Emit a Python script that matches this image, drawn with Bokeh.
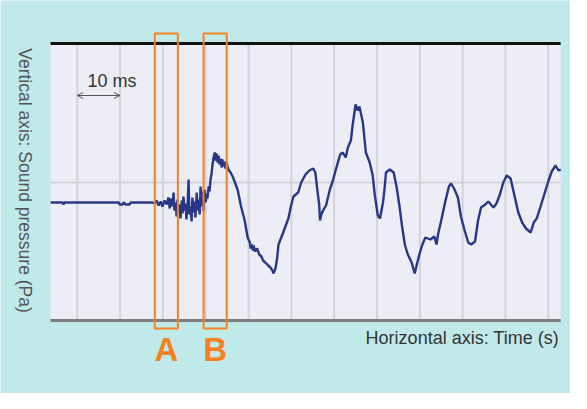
from bokeh.plotting import figure
from bokeh.models import Range1d, Label, Arrow, OpenHead
from bokeh.embed import file_html
from bokeh.resources import INLINE

# ---- data (time in ms, sound pressure in arbitrary Pa units) ----
time_ms = [
    -6.2, -3.4, -3.2, -3.0, 9.7, 9.9, 10.6, 10.8, 11.3, 12.2, 12.5, 17.6,
    18.1, 18.5, 19.0, 19.5, 19.9, 20.4, 20.9, 21.3, 21.6, 21.8, 22.0, 22.3,
    22.5, 22.7, 23.0, 23.2, 23.4, 23.7, 23.9, 24.1, 24.4, 24.6, 24.8, 25.1,
    25.3, 25.5, 25.8, 26.0, 26.2, 26.5, 26.7, 26.9, 27.2, 27.4, 27.6, 27.9,
    28.1, 28.3, 28.6, 28.8, 29.0, 29.3, 29.5, 29.7, 30.0, 30.2, 30.4, 30.7,
    30.9, 31.1, 31.4, 31.6, 31.8, 32.1, 32.3, 32.5, 32.8, 33.0, 33.2, 33.5,
    33.7, 33.9, 34.2, 34.4, 34.6, 34.9, 35.1, 35.3, 35.8, 36.3, 37.0, 37.5,
    38.2, 39.1, 39.8, 40.3, 40.5, 40.8, 41.0, 41.2, 41.5, 42.0, 42.5, 43.0,
    43.4, 43.9, 44.6, 45.1, 45.6, 45.8, 46.3, 46.7, 47.0, 48.1, 49.3, 50.0,
    50.5, 51.6, 52.3, 53.3, 54.2, 55.1, 55.6, 56.0, 56.5, 56.7, 57.0, 57.4,
    58.1, 59.0, 59.7, 60.4, 61.4, 62.0, 62.7, 63.2, 63.9, 64.3, 64.8, 65.0,
    65.5, 65.9, 66.2, 66.7, 67.4, 68.3, 69.0, 69.5, 70.2, 70.7, 71.4, 71.8,
    72.1, 73.0, 73.9, 74.6, 75.3, 75.8, 76.5, 77.2, 78.1, 78.8, 79.3, 79.9,
    80.6, 81.3, 82.5, 83.4, 83.9, 84.3, 85.0, 85.9, 86.8, 87.3, 88.0, 88.9,
    89.6, 90.4, 91.3, 92.0, 92.9, 93.6, 94.3, 95.3, 96.0, 97.2, 97.9, 98.7,
    99.5, 100.3, 101.2, 102.1, 103.0, 103.9, 104.8, 105.9, 106.6, 107.3, 108.2, 109.2,
    110.0, 110.8, 111.7, 112.4, 112.9,
]
pressure = [
    -2.0, -2.0, -2.2, -2.0, -2.0, -2.2, -2.2, -2.0, -2.2, -2.2, -2.0, -2.0,
    -2.1, -1.8, -2.3, -1.9, -2.4, -1.8, -2.2, -1.5, -2.6, -1.6, -2.4, -1.9,
    -1.0, -2.8, -2.0, -3.4, -1.7, -3.0, -2.2, -3.6, -1.8, -3.1, -1.4, -2.8,
    -2.1, -3.7, -2.0, 0.3, -3.2, -2.4, -3.9, -1.5, -3.0, -1.9, -3.5, -1.0,
    -2.8, -1.7, -3.2, -0.4, -2.4, -0.9, -2.9, -0.7, -2.0, -1.1, -1.6, -0.4,
    -0.9, 0.2, 1.0, 1.8, 2.4, 3.0, 2.2, 2.9, 2.0, 2.7, 1.8, 2.4,
    1.5, 2.3, 1.6, 2.1, 1.4, 2.0, 1.6, 1.3, 1.0, 0.6, -0.2, -0.8,
    -2.3, -3.8, -5.5, -6.0, -6.6, -6.2, -6.8, -6.3, -6.9, -6.6, -7.2, -7.4,
    -7.8, -8.0, -8.3, -8.5, -8.8, -9.1, -8.6, -7.5, -6.2, -5.0, -3.6, -2.2,
    -1.4, -1.0, 0.0, 0.8, 1.2, 1.4, 1.0, -0.5, -2.2, -3.8, -3.2, -2.8,
    -2.3, -0.7, 0.2, 1.3, 2.8, 3.0, 2.5, 3.5, 4.2, 5.7, 7.2, 7.8,
    7.2, 7.6, 7.0, 6.0, 3.0, 2.0, 0.7, -1.3, -3.3, -3.6, -2.0, -0.5,
    1.0, 1.3, 1.0, -0.5, -2.5, -4.2, -6.2, -7.2, -8.0, -9.1, -8.2, -7.2,
    -6.2, -5.5, -5.7, -5.4, -6.2, -5.1, -3.8, -2.0, -0.4, -0.1, -0.6, -1.5,
    -3.4, -4.7, -6.0, -6.2, -5.9, -3.8, -2.5, -2.2, -1.9, -2.5, -2.1, -1.2,
    0.0, 0.7, 0.4, -1.3, -3.0, -4.0, -4.6, -5.0, -4.0, -3.6, -2.4, -1.0,
    0.1, 1.1, 1.7, 1.2, 1.3,
]
grid_ticks_ms = [0, 10, 20, 30, 40, 50, 60, 70, 80, 90, 100, 110]
window_labels = ["A", "B"]
window_start_ms = [18.1, 29.5]
window_end_ms = [23.5, 34.9]
scale_bar_ms = [0, 10]
scale_bar_text = "10 ms"
x_label = "Horizontal axis: Time (s)"
y_label = "Vertical axis: Sound pressure (Pa)"

# visible plot window (data units)
T0, T1 = -6.24, 112.9
P0, P1 = -13.7, 13.9

FONT = "Liberation Sans"
ORANGE = "#f5821f"
GRID = "#d2d2d8"

p = figure(width=570, height=393, output_backend="svg", toolbar_location=None,
           x_range=Range1d(-17.92, 115.19), y_range=Range1d(-21.1, 18.2),
           x_axis_location=None, y_axis_location=None,
           min_border=0, min_border_left=0, min_border_right=0,
           min_border_top=0, min_border_bottom=0,
           background_fill_color="#c0eaea", border_fill_color="#c0eaea",
           outline_line_color=None)
p.grid.visible = False

# plot area
p.quad(left=[T0], right=[T1], bottom=[P0], top=[P1], fill_color="#ededf6", line_color=None)
# grid lines
p.segment(x0=grid_ticks_ms, x1=grid_ticks_ms, y0=[P0] * len(grid_ticks_ms), y1=[P1] * len(grid_ticks_ms),
          line_color=GRID, line_width=2)
p.segment(x0=[T0], x1=[T1], y0=[0], y1=[0], line_color=GRID, line_width=2)
# frame top / bottom rules
p.segment(x0=[T0], x1=[T1], y0=[P1], y1=[P1], line_color="#111111", line_width=3)
p.segment(x0=[T0], x1=[T1], y0=[P0 - 0.1], y1=[P0 - 0.1], line_color="#7d7d7d", line_width=3)

# waveform
p.line(time_ms, pressure, line_color="#283887", line_width=2.4)

# windows A, B
p.quad(left=window_start_ms, right=window_end_ms, bottom=[-14.6] * 2, top=[14.9] * 2,
       fill_color=None, line_color=ORANGE, line_width=2)
for lab, s, e in zip(window_labels, window_start_ms, window_end_ms):
    p.add_layout(Label(x=(s + e) / 2, y=-16.7, text=lab, text_align="center",
                       text_baseline="middle", text_font=FONT, text_font_style="bold",
                       text_font_size="33px", text_color=ORANGE))

# 10 ms scale bar
p.add_layout(Arrow(x_start=scale_bar_ms[0], x_end=scale_bar_ms[1], y_start=8.7, y_end=8.7,
                   line_color="#555555", line_width=1,
                   start=OpenHead(size=6, line_color="#555555", line_width=1),
                   end=OpenHead(size=6, line_color="#555555", line_width=1)))
p.add_layout(Label(x=2.4, y=10.2, text=scale_bar_text, text_align="left", text_baseline="middle",
                   text_font=FONT, text_font_size="18px", text_color="#333333"))

# axis titles
p.add_layout(Label(x=112.5, y=-15.5, text=x_label, text_align="right", text_baseline="middle",
                   text_font=FONT, text_font_size="18px", text_color="#333333"))
p.add_layout(Label(x=-12.3, y=0.2, text=y_label, text_align="center", text_baseline="middle",
                   angle=-1.5708, text_font=FONT, text_font_size="17.5px", text_color="#555555"))

open("out.html", "w").write(file_html(p, INLINE))
